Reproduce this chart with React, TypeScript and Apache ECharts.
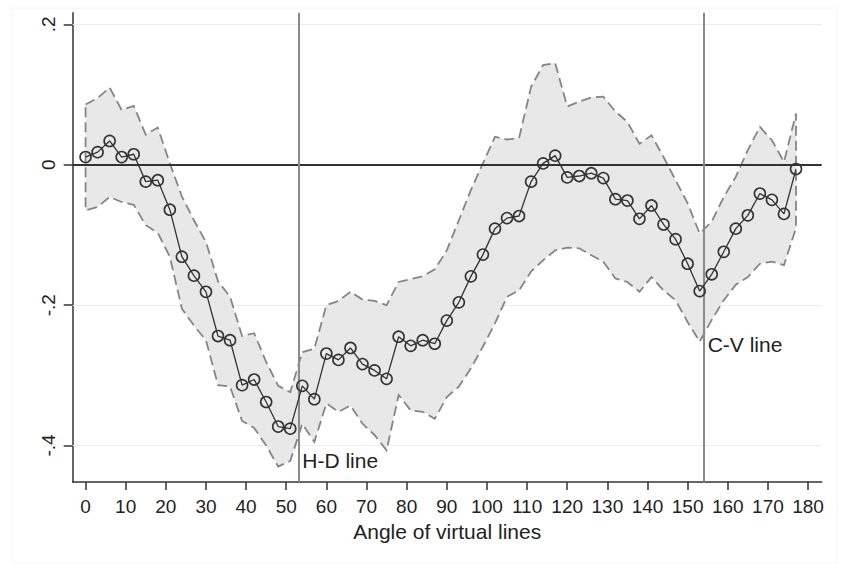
import React, { useEffect, useRef } from "react";
import * as echarts from "echarts";

const angles = [0, 3, 6, 9, 12, 15, 18, 21, 24, 27, 30, 33, 36, 39, 42, 45, 48, 51, 54, 57, 60, 63, 66, 69, 72, 75, 78, 81, 84, 87, 90, 93, 96, 99, 102, 105, 108, 111, 114, 117, 120, 123, 126, 129, 132, 135, 138, 141, 144, 147, 150, 153, 156, 159, 162, 165, 168, 171, 174, 177];

const coef = [0.011, 0.018, 0.034, 0.011, 0.015, -0.024, -0.022, -0.064, -0.131, -0.158, -0.181, -0.244, -0.25, -0.314, -0.306, -0.338, -0.373, -0.376, -0.315, -0.334, -0.269, -0.278, -0.261, -0.284, -0.293, -0.305, -0.245, -0.258, -0.25, -0.255, -0.222, -0.196, -0.159, -0.128, -0.091, -0.076, -0.073, -0.024, 0.002, 0.013, -0.018, -0.016, -0.012, -0.019, -0.049, -0.051, -0.077, -0.058, -0.085, -0.106, -0.141, -0.18, -0.156, -0.124, -0.091, -0.072, -0.041, -0.05, -0.07, -0.006];

const upper = [0.086, 0.095, 0.11, 0.078, 0.084, 0.043, 0.053, 0.002, -0.045, -0.079, -0.11, -0.166, -0.188, -0.244, -0.24, -0.281, -0.315, -0.324, -0.267, -0.262, -0.2, -0.194, -0.181, -0.192, -0.194, -0.2, -0.167, -0.163, -0.159, -0.149, -0.122, -0.079, -0.036, 0.002, 0.04, 0.036, 0.038, 0.111, 0.142, 0.145, 0.083, 0.09, 0.096, 0.097, 0.076, 0.061, 0.03, 0.042, 0.011, -0.022, -0.055, -0.098, -0.081, -0.046, -0.017, 0.021, 0.054, 0.035, 0.004, 0.073];

const lower = [-0.065, -0.06, -0.046, -0.053, -0.057, -0.086, -0.097, -0.131, -0.205, -0.229, -0.25, -0.314, -0.316, -0.365, -0.375, -0.4, -0.43, -0.422, -0.369, -0.395, -0.34, -0.352, -0.343, -0.369, -0.385, -0.407, -0.328, -0.35, -0.352, -0.362, -0.331, -0.316, -0.29, -0.259, -0.226, -0.188, -0.179, -0.152, -0.136, -0.122, -0.118, -0.119, -0.129, -0.138, -0.162, -0.167, -0.181, -0.16, -0.179, -0.193, -0.224, -0.252, -0.221, -0.193, -0.171, -0.16, -0.141, -0.138, -0.143, -0.09];

const xTicks = [0, 10, 20, 30, 40, 50, 60, 70, 80, 90, 100, 110, 120, 130, 140, 150, 160, 170, 180];
const yTicks = [-0.4, -0.2, 0, 0.2];
const yTickLabels: Record<string, string> = { "-0.4": "-.4", "-0.2": "-.2", "0": "0", "0.2": ".2" };

const refLines = [
  { name: "H-D line", x: 53, labelY: -0.422 },
  { name: "C-V line", x: 154, labelY: -0.256 },
];

const FONT = "'Liberation Sans', Arial, sans-serif";

export default function App() {
  const ref = useRef<HTMLDivElement>(null);
  useEffect(() => {
    if (!ref.current) return;
    const chart = echarts.init(ref.current, null, { renderer: "svg" });
    const bandData = angles.map((a, i) => [a, lower[i], upper[i]]);
    const option: any = {
      animation: false,
      backgroundColor: "#ffffff",
      graphic: [
        {
          type: "rect",
          z: -10,
          shape: { x: 12, y: 8, width: 825, height: 555 },
          style: { fill: "none", stroke: "#f4f4f4", lineWidth: 1 },
        },
      ],
      grid: { left: 72.7, right: 21.3, top: 12.7, bottom: 93 },
      xAxis: {
        type: "value",
        min: -3.2,
        max: 183.4,
        axisLine: { onZero: false, lineStyle: { color: "#333", width: 1.5 } },
        axisTick: { customValues: xTicks, length: 8, lineStyle: { color: "#333", width: 1.5 } },
        axisLabel: {
          customValues: xTicks,
          color: "#222",
          fontSize: 19,
          fontFamily: FONT,
          margin: 15,
        },
        splitLine: { show: false },
        name: "Angle of virtual lines",
        nameLocation: "middle",
        nameGap: 35,
        nameTextStyle: { color: "#222", fontSize: 21, fontFamily: FONT },
      },
      yAxis: {
        type: "value",
        min: -0.452,
        max: 0.2167,
        axisLine: { show: true, onZero: false, lineStyle: { color: "#333", width: 1.5 } },
        axisTick: { show: true, customValues: yTicks, length: 9, lineStyle: { color: "#333", width: 1.5 } },
        axisLabel: {
          customValues: yTicks,
          rotate: 90,
          color: "#222",
          fontSize: 19,
          fontFamily: FONT,
          margin: 15,
          formatter: (v: number) => yTickLabels[String(Math.round(v * 10) / 10)] ?? String(v),
        },
        splitLine: { show: false },
      },
      series: [
        {
          type: "custom",
          z: 1,
          silent: true,
          data: bandData,
          encode: { x: 0, y: [1, 2] },
          renderItem: (params: any, api: any) => {
            if (params.dataIndex !== 0) return null;
            const pts: number[][] = [];
            for (let i = 0; i < angles.length; i++) pts.push(api.coord([angles[i], upper[i]]));
            for (let i = angles.length - 1; i >= 0; i--) pts.push(api.coord([angles[i], lower[i]]));
            return {
              type: "polygon",
              shape: { points: pts },
              style: { fill: "#e8e8e8", stroke: "#858585", lineWidth: 1.8, lineDash: [10, 5] },
            };
          },
          markLine: {
            silent: true,
            z: 0.5,
            symbol: "none",
            label: { show: false },
            lineStyle: { color: "#ececec", width: 1.2, type: "solid" },
            data: yTicks.filter((v) => v !== 0).map((v) => ({ yAxis: v })),
          },
        },
        {
          type: "line",
          z: 3,
          data: angles.map((a, i) => [a, coef[i]]),
          symbol: "circle",
          symbolSize: 11,
          itemStyle: { color: "rgba(0,0,0,0)", borderColor: "#333", borderWidth: 1.6 },
          lineStyle: { color: "#333", width: 1.3 },
          markLine: {
            silent: true,
            z: 2,
            symbol: "none",
            label: { show: false },
            data: [
              { yAxis: 0, lineStyle: { color: "#333", width: 2.2, type: "solid" } },
              ...refLines.map((r) => ({ xAxis: r.x, lineStyle: { color: "#8a8a8a", width: 2, type: "solid" } })),
            ],
          },
          markPoint: {
            silent: true,
            symbol: "circle",
            symbolSize: 0,
            itemStyle: { color: "rgba(0,0,0,0)" },
            label: {
              show: true,
              position: "right",
              distance: 4,
              color: "#222",
              fontSize: 21,
              fontFamily: FONT,
              formatter: (p: any) => p.name,
            },
            data: refLines.map((r) => ({ name: r.name, coord: [r.x, r.labelY] })),
          },
        },
      ],
    };
    chart.setOption(option);
    return () => chart.dispose();
  }, []);
  return <div ref={ref} style={{ position: "absolute", left: 0, top: 0, width: 843, height: 575 }} />;
}
